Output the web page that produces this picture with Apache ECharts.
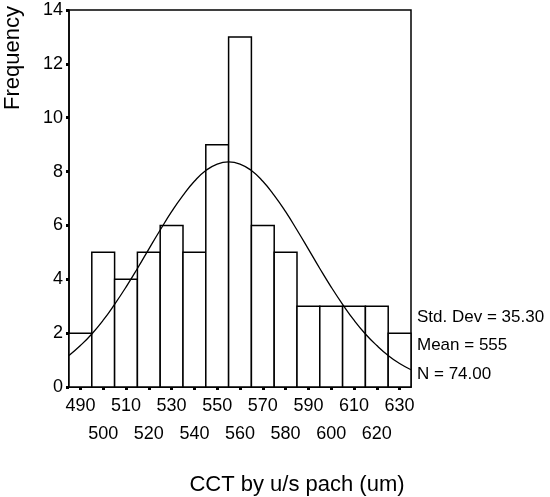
<!DOCTYPE html>
<html>
<head>
<meta charset="utf-8">
<script src="https://cdn.jsdelivr.net/npm/echarts@6.0.0/dist/echarts.min.js"></script>
<style>
  html, body { margin: 0; padding: 0; background: #fff; }
  #chart { width: 550px; height: 497px; }
</style>
</head>
<body>
<div id="chart"></div>
<script>
// histogram bins (centre of each 10 um bin)
const binCenters = [490, 500, 510, 520, 530, 540, 550, 560, 570, 580, 590, 600, 610, 620, 630];
const frequencies = [2, 5, 4, 5, 6, 5, 9, 13, 6, 5, 3, 3, 3, 3, 2];
const binWidth = 10;

// tick labels are staggered over two rows
const upperRowLabels = [490, 510, 530, 550, 570, 590, 610, 630];
const lowerRowLabels = [500, 520, 540, 560, 580, 600, 620];

// fitted normal curve
const curveX = [485, 490, 495, 500, 505, 510, 515, 520, 525, 530, 535, 540, 545, 550, 555,
                560, 565, 570, 575, 580, 585, 590, 595, 600, 605, 610, 615, 620, 625, 630, 635];
const curveY = [1.17, 1.54, 1.97, 2.48, 3.07, 3.71, 4.40, 5.12, 5.83, 6.51, 7.12, 7.64, 8.04, 8.28, 8.36,
                8.28, 8.04, 7.64, 7.12, 6.51, 5.83, 5.12, 4.40, 3.71, 3.07, 2.48, 1.97, 1.54, 1.17, 0.87, 0.64];

const statLines = ['Std. Dev = 35.30', 'Mean = 555', 'N = 74.00'];

const fontFamily = '"Liberation Sans", Arial, sans-serif';

const chart = echarts.init(document.getElementById('chart'));

const baseX = {
  type: 'value',
  position: 'bottom',
  min: 485,
  max: 635,
  splitLine: { show: false }
};

const option = {
  animation: false,
  textStyle: { fontFamily: fontFamily, color: '#000' },
  grid: {
    left: 69, right: 139, top: 10, bottom: 110,
    show: true, borderColor: '#000', borderWidth: 1.5, backgroundColor: 'transparent'
  },
  xAxis: [
    Object.assign({}, baseX, {
      axisLine: { show: true, lineStyle: { color: '#000', width: 1.5 } },
      axisTick: { show: true, length: 3, customValues: binCenters, lineStyle: { color: '#000', width: 3 } },
      axisLabel: {
        customValues: upperRowLabels,
        showMinLabel: true, showMaxLabel: true, hideOverlap: false,
        fontSize: 18, color: '#000', margin: 10
      }
    }),
    Object.assign({}, baseX, {
      axisLine: { show: false },
      axisTick: { show: false },
      axisLabel: {
        customValues: lowerRowLabels,
        showMinLabel: true, showMaxLabel: true, hideOverlap: false,
        fontSize: 18, color: '#000', margin: 38
      }
    })
  ],
  yAxis: {
    type: 'value',
    min: 0,
    max: 14,
    interval: 2,
    axisLine: { show: true, lineStyle: { color: '#000', width: 1.5 } },
    axisTick: { show: true, length: 3, lineStyle: { color: '#000', width: 3 } },
    splitLine: { show: false },
    axisLabel: { fontSize: 18, color: '#000', margin: 6 }
  },
  graphic: [
    {
      type: 'text',
      x: 13, y: 58,
      rotation: Math.PI / 2,
      style: {
        text: 'Frequency', fontSize: 22, fontFamily: fontFamily, fill: '#000',
        align: 'center', verticalAlign: 'middle'
      }
    },
    {
      type: 'text',
      x: 297, y: 485,
      style: {
        text: 'CCT by u/s pach (um)', fontSize: 22, fontFamily: fontFamily, fill: '#000',
        align: 'center', verticalAlign: 'middle'
      }
    }
  ].concat(statLines.map((t, i) => ({
    type: 'text',
    x: 417, y: 317 + i * 28.5,
    style: { text: t, fontSize: 17, fontFamily: fontFamily, fill: '#000', align: 'left', verticalAlign: 'middle' }
  }))),
  series: [
    {
      type: 'custom',
      xAxisIndex: 0,
      data: binCenters.map((c, i) => [c, frequencies[i]]),
      encode: { x: 0, y: 1 },
      renderItem: function (params, api) {
        const x = api.value(0);
        const y = api.value(1);
        const p0 = api.coord([x - binWidth / 2, y]);
        const p1 = api.coord([x + binWidth / 2, 0]);
        return {
          type: 'rect',
          shape: { x: p0[0], y: p0[1], width: p1[0] - p0[0], height: p1[1] - p0[1] },
          style: { fill: '#fff', stroke: '#000', lineWidth: 1.5 }
        };
      },
      z: 2
    },
    {
      type: 'line',
      xAxisIndex: 0,
      data: curveX.map((x, i) => [x, curveY[i]]),
      showSymbol: false,
      smooth: true,
      lineStyle: { color: '#000', width: 1.3 },
      z: 3
    }
  ]
};

chart.setOption(option);
</script>
</body>
</html>
